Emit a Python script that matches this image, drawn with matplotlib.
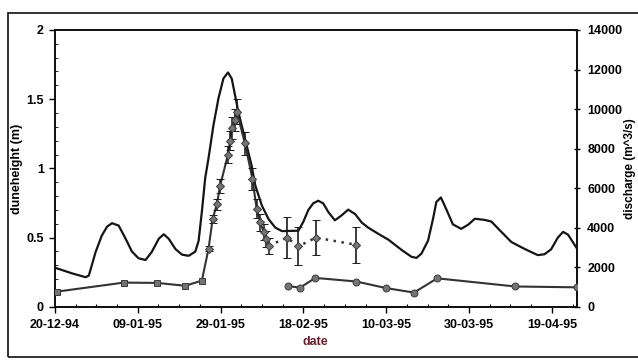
import matplotlib
matplotlib.use("Agg")
import matplotlib.pyplot as plt
from matplotlib.patches import Rectangle
from matplotlib.ticker import MultipleLocator

plt.rcParams['font.family'] = ['Liberation Sans', 'DejaVu Sans']
plt.rcParams['font.weight'] = 'bold'

# x values are days after 20-12-94
date_ticks = [0, 20, 40, 60, 80, 100, 120]
date_labels = ['20-12-94', '09-01-95', '29-01-95', '18-02-95', '10-03-95', '30-03-95', '19-04-95']

# discharge (m^3/s)
q_day = [0, 4.2, 7.4, 8.2, 9.8, 11.3, 12.6, 13.8, 15.4, 17.0, 18.6, 20.2, 21.9, 23.4, 25.1,
         26.3, 27.5, 29.1, 30.7, 32.3, 33.9, 34.7, 35.5, 36.3, 37.1, 38.3, 39.5, 40.7, 41.8,
         42.7, 43.5, 44.3, 45.1, 46.3, 47.5, 48.4, 50.0, 51.6, 53.2, 54.8, 58.8, 60.0, 61.2,
         62.4, 63.6, 64.8, 66.0, 67.6, 69.2, 70.8, 72.5, 74.1, 75.7, 78.1, 80.5, 83.7, 86.1,
         87.3, 88.5, 90.1, 91.3, 92.1, 93.2, 94.5, 96.1, 98.1, 99.8, 101.4, 103.8, 105.4,
         107.4, 110.2, 113.4, 116.6, 118.2, 119.8, 121.4, 122.7, 123.9, 126.0]
q_val = [1980, 1690, 1500, 1580, 2750, 3590, 4055, 4230, 4110, 3480, 2800, 2455, 2370, 2780, 3450,
         3670, 3440, 2925, 2640, 2580, 2790, 3330, 4830, 6520, 7525, 9200, 10545, 11550, 11850,
         11540, 10700, 9855, 9180, 8160, 7145, 6130, 5110, 4435, 4010, 3830, 3850, 4310, 4900,
         5240, 5365, 5230, 4800, 4375, 4620, 4915, 4690, 4260, 4000, 3690, 3400, 2880, 2530,
         2475, 2690, 3350, 4445, 5300, 5530, 4935, 4170, 3945, 4155, 4455, 4395, 4310,
         3875, 3280, 2930, 2615, 2660, 2905, 3490, 3790, 3650, 2965]

# dune height (m), main series
h_day = [0.5, 16.6, 24.7, 31.5, 35.5, 37.1, 38.1, 39.1, 39.9, 41.8, 42.3, 42.7, 43.4, 43.9,
         45.9, 47.7, 48.7, 49.6, 50.4, 50.9, 51.6]
h_val = [0.11, 0.175, 0.173, 0.152, 0.19, 0.42, 0.635, 0.74, 0.875, 1.10, 1.20, 1.29, 1.35, 1.41,
         1.18, 0.925, 0.71, 0.61, 0.54, 0.49, 0.44]
h_err = [0, 0, 0, 0, 0, 0.02, 0.03, 0.04, 0.05, 0.06, 0.07, 0.08, 0.08, 0.09,
         0.08, 0.08, 0.07, 0.06, 0.06, 0.06, 0.06]

# dune height after the flood (dotted part)
d_day = [51.6, 56.0, 58.8, 63.0, 72.8]
d_val = [0.44, 0.50, 0.437, 0.50, 0.448]
d_err = [0.06, 0.15, 0.137, 0.124, 0.131]

# lower series
l_day = [56.2, 59.2, 62.9, 72.8, 79.9, 86.7, 92.3, 111.2, 126.0]
l_val = [0.15, 0.139, 0.209, 0.183, 0.136, 0.103, 0.206, 0.147, 0.141]

fig = plt.figure(figsize=(6.38, 3.61), dpi=100)
ax = fig.add_axes([0.086, 0.150, 0.818, 0.767])
ax2 = ax.twinx()

ax2.plot(q_day, q_val, color='#151515', lw=1.6, zorder=2, solid_joinstyle='round')

mk = dict(mfc='#747474', mec='#3c3c3c', mew=0.7)
ax.plot(d_day, d_val, color='#333333', lw=1.8, ls=(0, (1, 2.2)), zorder=3)
ax.errorbar(d_day[1:], d_val[1:], yerr=d_err[1:], fmt='D', ms=4.5, ecolor='#1a1a1a',
            elinewidth=1.2, capsize=2.6, capthick=1.2, zorder=4, **mk)
ax.plot(h_day, h_val, color='#333333', lw=1.5, zorder=3)
ax.plot(h_day[:5], h_val[:5], 's', ms=5, zorder=4, **mk)
ax.errorbar(h_day[5:], h_val[5:], yerr=h_err[5:], fmt='D', ms=4.5, ecolor='#1a1a1a',
            elinewidth=1.1, capsize=2.6, capthick=1.1, zorder=4, **mk)
ax.plot(l_day, l_val, color='#333333', lw=1.5, marker='o', ms=5, zorder=3, **mk)

ax.set_zorder(ax2.get_zorder() + 1)
ax.patch.set_visible(False)

ax.set_xlim(0, 126)
ax.set_ylim(0, 2)
ax2.set_ylim(0, 14000)
ax.set_xticks(date_ticks)
ax.set_xticklabels(date_labels)
ax.xaxis.set_minor_locator(MultipleLocator(5))
ax.set_yticks([0, 0.5, 1, 1.5, 2])
ax.set_yticklabels(['0', '0.5', '1', '1.5', '2'])
ax.yaxis.set_minor_locator(MultipleLocator(0.1))
ax2.set_yticks(range(0, 14001, 2000))

ax.tick_params(axis='x', which='major', direction='out', length=4, width=1, pad=5, labelsize=9)
ax.tick_params(axis='x', which='minor', direction='in', length=2.5, width=0.8)
ax.tick_params(axis='y', which='major', direction='out', length=4, width=1, pad=4, labelsize=9)
ax.tick_params(axis='y', which='minor', direction='in', length=2, width=0.6)
ax2.tick_params(axis='y', direction='inout', length=5, width=1, pad=5, labelsize=9)

for a in (ax, ax2):
    for s in a.spines.values():
        s.set_linewidth(1.3)
        s.set_color('#111111')

ax.set_xlabel('date', color='#6b1e2a', fontsize=9, fontweight='bold', labelpad=3)
ax.set_ylabel('duneheight (m)', fontsize=9, fontweight='bold', labelpad=2)
ax2.set_ylabel('discharge (m^3/s)', fontsize=8.5, fontweight='bold', labelpad=1)

fig.patches.append(Rectangle((0.0125, 0.012), 1.1, 0.952, transform=fig.transFigure,
                             fill=False, lw=1.3, ec='#222222'))

fig.savefig('out.png', dpi=100)
